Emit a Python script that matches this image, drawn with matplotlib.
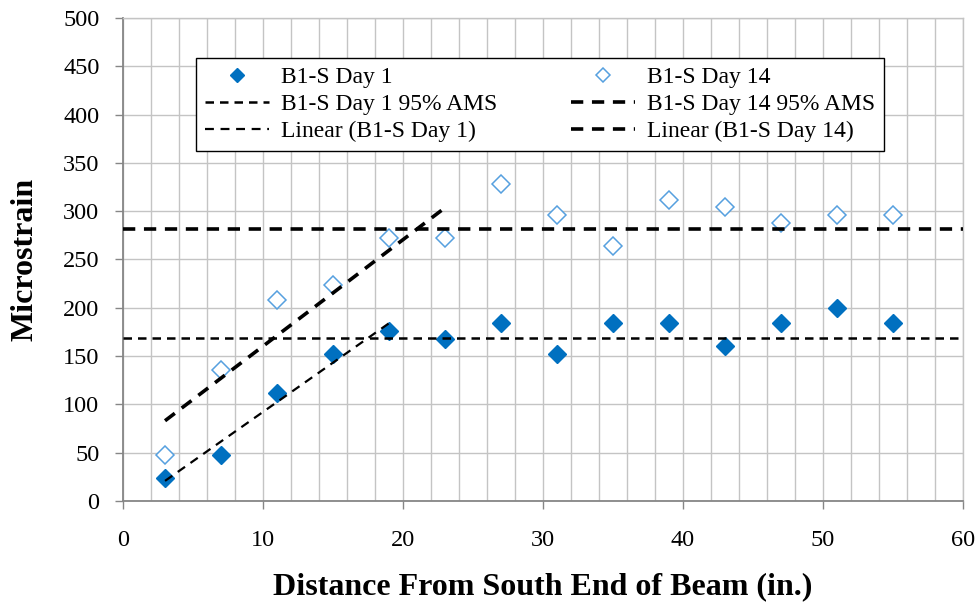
import matplotlib
matplotlib.use("Agg")
import matplotlib.pyplot as plt
from matplotlib.ticker import MultipleLocator
import numpy as np

# gauge positions along the beam (in.)
distance = [3, 7, 11, 15, 19, 23, 27, 31, 35, 39, 43, 47, 51, 55]

# measured strain readings
day1 = [24, 48, 112, 152, 176, 168, 184, 152, 184, 184, 160, 184, 200, 184]
day14 = [48, 136, 208, 224, 272, 272, 328, 296, 264, 312, 304, 288, 296, 296]

# 95% average maximum strain levels
ams_day1 = 169
ams_day14 = 282

# number of leading gauges used for the linear trends
n_fit_day1 = 5
n_fit_day14 = 6

plt.rcParams["font.family"] = ["Liberation Serif", "DejaVu Serif"]

fig = plt.figure(figsize=(9.78, 6.03), dpi=100)
ax = fig.add_axes([0.1258, 0.1692, 0.8589, 0.801])

x = np.array(distance, dtype=float)
y1 = np.array(day1, dtype=float)
y14 = np.array(day14, dtype=float)

dark_blue = "#0070C0"
light_blue = "#56A0DF"

ax.plot(x, y1, linestyle="none", marker="D", ms=9.6, color=dark_blue,
        mec=dark_blue, label="B1-S Day 1", zorder=3)
ax.plot(x, y14, linestyle="none", marker="D", ms=9.4, mfc="white",
        mec=light_blue, mew=1.1, label="B1-S Day 14", zorder=3)

# horizontal AMS levels span the whole plot width
ax.plot([0, 60], [ams_day1, ams_day1], color="black", lw=1.8,
        dashes=(3.4, 2.4), label="B1-S Day 1 95% AMS", zorder=4)
ax.plot([0, 60], [ams_day14, ams_day14], color="black", lw=2.6,
        dashes=(3.4, 2.4), label="B1-S Day 14 95% AMS", zorder=4)

# least squares trend through the rising part of each series
xf1 = x[:n_fit_day1]
k1, b1 = np.polyfit(xf1, y1[:n_fit_day1], 1)
ax.plot([xf1[0], xf1[-1]], [k1 * xf1[0] + b1, k1 * xf1[-1] + b1],
        color="black", lw=1.6, dashes=(4.0, 3.0),
        label="Linear (B1-S Day 1)", zorder=4)

xf14 = x[:n_fit_day14]
k14, b14 = np.polyfit(xf14, y14[:n_fit_day14], 1)
ax.plot([xf14[0], xf14[-1]], [k14 * xf14[0] + b14, k14 * xf14[-1] + b14],
        color="black", lw=2.6, dashes=(3.4, 2.4),
        label="Linear (B1-S Day 14)", zorder=4)

ax.set_xlim(0, 60)
ax.set_ylim(0, 500)
ax.xaxis.set_major_locator(MultipleLocator(10))
ax.xaxis.set_minor_locator(MultipleLocator(2))
ax.yaxis.set_major_locator(MultipleLocator(50))

grid_col = "#C4C4C4"
axis_col = "#868686"
ax.grid(True, which="both", axis="x", color=grid_col, lw=1.0, zorder=0)
ax.grid(True, which="major", axis="y", color=grid_col, lw=1.0, zorder=0)
ax.set_axisbelow(True)

for side in ["top", "right"]:
    ax.spines[side].set_color(grid_col)
    ax.spines[side].set_linewidth(1.0)
for side in ["left", "bottom"]:
    ax.spines[side].set_color(axis_col)
    ax.spines[side].set_linewidth(1.3)

ax.tick_params(axis="both", which="major", direction="out", length=6,
               width=1.0, color=axis_col, labelsize=17.5)
ax.tick_params(axis="x", which="major", pad=15)
ax.tick_params(axis="y", which="major", pad=11)
ax.tick_params(axis="x", which="minor", length=0)

ax.set_xlabel("Distance From South End of Beam (in.)", fontsize=23,
              fontweight="bold")
ax.xaxis.set_label_coords(0.5, -0.148)
ax.set_ylabel("Microstrain", fontsize=23, fontweight="bold")
ax.yaxis.set_label_coords(-0.1, 0.5)

handles, labels = ax.get_legend_handles_labels()
order = [0, 2, 4, 1, 3, 5]
leg = ax.legend([handles[i] for i in order], [labels[i] for i in order],
                ncol=2, loc="upper left", mode="expand",
                bbox_to_anchor=(0.087, 0.0, 0.819, 0.9172),
                borderaxespad=0, fontsize=17, numpoints=1,
                handlelength=2.7, handletextpad=0.5, labelspacing=0.22,
                borderpad=0.38, columnspacing=2.0, fancybox=False,
                markerscale=0.75, framealpha=1)
leg.get_frame().set_edgecolor("black")
leg.get_frame().set_linewidth(1.0)

fig.savefig("out.png", dpi=100)
